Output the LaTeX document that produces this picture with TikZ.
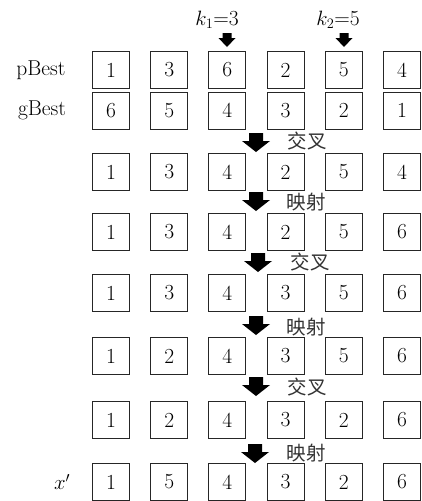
\documentclass[tikz,border=0pt]{standalone}
\usepackage{fontspec}
\newfontfamily\cjk{Noto Sans CJK SC}
\begin{document}
\begin{tikzpicture}[x=1pt,y=-1pt,
  cell/.style={draw=black!85,line width=1pt,minimum width=37pt,minimum height=37pt,inner sep=0pt,font=\fontsize{21.5}{25}\selectfont},
  lbl/.style={inner sep=0pt,font=\fontsize{21.5}{25}\selectfont},
  cjklbl/.style={inner sep=0pt,font=\cjk\fontsize{19.5}{22}\selectfont,text=black!80},
  bigarrow/.pic={\fill[black] (-7,0) -- (7,0) -- (7,8) -- (14,8) -- (0,19) -- (-14,8) -- (-7,8) -- cycle;},
  smallarrow/.pic={\fill[black] (-4.5,0) -- (4.5,0) -- (4.5,5) -- (8.5,5) -- (0,14) -- (-8.5,5) -- (-4.5,5) -- cycle;}]
\useasboundingbox (0,0) rectangle (422,501);
% cells
\foreach \r/\y/\vals in {1/70/{1,3,6,2,5,4},2/110.5/{6,5,4,3,2,1},3/172/{1,3,4,2,5,4},4/232/{1,3,4,2,5,6},5/293/{1,3,4,3,5,6},6/356/{1,2,4,3,5,6},7/420/{1,2,4,3,2,6},8/482/{1,5,4,3,2,6}}{
  \foreach \v [count=\c] in \vals {
    \node[cell] (r\r-\c) at ({111+58.2*(\c-1)},\y) {\v};
  }
}
% row labels
\node[lbl] (pb) at (41,70) {pBest};
\node[lbl] (gb) at (42,110.5) {gBest};
\node[lbl] (xp) at (62,482) {$x'$};
% cut points
\node[lbl] (k1) at (217,20) {$k_1$=3};
\node[lbl] (k2) at (338,20) {$k_2$=5};
\pic at (227,33) {smallarrow};
\pic at (344,33) {smallarrow};
% step arrows
\pic at (256,133) {bigarrow};
\pic at (256,192) {bigarrow};
\pic at (258,253) {bigarrow};
\pic at (256,316) {bigarrow};
\pic at (256,377) {bigarrow};
\pic at (255,444) {bigarrow};
% step labels
\node[cjklbl] (s1) at (307,141) {交叉};
\node[cjklbl] (s2) at (306,202) {映射};
\node[cjklbl] (s3) at (310,262) {交叉};
\node[cjklbl] (s4) at (306,327) {映射};
\node[cjklbl] (s5) at (307,387) {交叉};
\node[cjklbl] (s6) at (306,453) {映射};
\end{tikzpicture}
\end{document}
